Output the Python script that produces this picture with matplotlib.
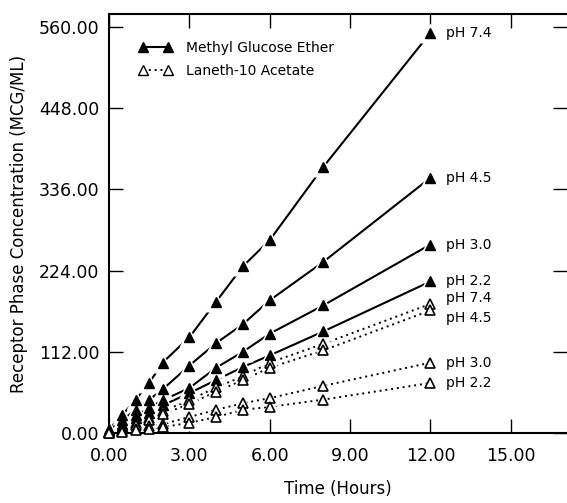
## Receptor phase concentration vs time chart
import matplotlib
matplotlib.use('Agg')
import matplotlib.pyplot as plt
from matplotlib.lines import Line2D

plt.rcParams['font.family'] = ['DejaVu Sans']

## Data
hours = [0, 0.5, 1, 1.5, 2, 3, 4, 5, 6, 8, 12]

mge_74 = [5, 25, 46, 69, 97, 132, 181, 230, 266, 367, 552]
mge_45 = [3, 18, 32, 46, 60, 93, 124, 150, 183, 236, 352]
mge_30 = [2, 12, 25, 35, 45, 62, 90, 112, 137, 176, 260]
mge_22 = [2, 10, 20, 28, 38, 55, 73, 91, 107, 140, 209]

lan_74 = [1, 6, 14, 21, 30, 45, 63, 78, 97, 123, 178]
lan_45 = [1, 5, 11, 18, 26, 40, 57, 73, 90, 114, 169]
lan_30 = [0, 3, 6, 9, 12, 22, 32, 41, 48, 65, 97]
lan_22 = [0, 2, 4, 6, 8, 14, 22, 32, 36, 46, 69]

mge_series = [mge_74, mge_45, mge_30, mge_22]
lan_series = [lan_74, lan_45, lan_30, lan_22]
mge_labels = ['pH 7.4', 'pH 4.5', 'pH 3.0', 'pH 2.2']
lan_labels = ['pH 7.4', 'pH 4.5', 'pH 3.0', 'pH 2.2']
lan_label_nudge = [8, -10, 0, 0]  # 7.4 / 4.5 labels pushed apart

x_ticks = [0, 3, 6, 9, 12, 15]
y_ticks = [0, 112, 224, 336, 448, 560]

## Plotting
fig = plt.figure(figsize=(5.67, 5.03), dpi=100)
ax = fig.add_axes([0.1922, 0.1392, 0.8078, 0.833])

for vals in mge_series:
    ax.plot(hours, vals, color='black', lw=1.5, ls='-', zorder=1, clip_on=False)
    ax.plot(hours, vals, ls='none', marker='^', ms=14, mfc='white', mec='none', zorder=2, clip_on=False)
    ax.plot(hours, vals, ls='none', marker='^', ms=7.5, mfc='black', mec='black', zorder=3, clip_on=False)

for vals in lan_series:
    ax.plot(hours, vals, color='black', lw=1.4, ls=(0, (1, 2)), zorder=1, clip_on=False)
    ax.plot(hours, vals, ls='none', marker='^', ms=12, mfc='white', mec='none', zorder=2, clip_on=False)
    ax.plot(hours, vals, ls='none', marker='^', ms=7.5, mfc='white', mec='black', mew=1.2, zorder=3, clip_on=False)

# pH labels at the end of each line
for vals, lab in zip(mge_series, mge_labels):
    ax.text(12.6, vals[-1], lab, fontsize=10, va='center', ha='left')
for vals, lab, nd in zip(lan_series, lan_labels, lan_label_nudge):
    ax.text(12.6, vals[-1] + nd, lab, fontsize=10, va='center', ha='left')

# legend
h1 = Line2D([], [], color='black', lw=1.5, marker='^', ms=7, mfc='black', mec='black')
h2 = Line2D([], [], color='black', lw=1.4, ls=(0, (1, 2)), marker='^', ms=7, mfc='white', mec='black')
ax.legend([h1, h2], ['Methyl Glucose Ether', 'Laneth-10 Acetate'], numpoints=2,
          loc='upper left', bbox_to_anchor=(0.065, 0.935), frameon=False,
          fontsize=10, handlelength=2.4, handletextpad=1.0, labelspacing=0.6,
          borderpad=0, borderaxespad=0)

ax.set_xlim(0, 17.1)
ax.set_ylim(0, 578)
ax.set_xticks(x_ticks)
ax.set_xticklabels(['%.2f' % v for v in x_ticks])
ax.set_yticks(y_ticks)
ax.set_yticklabels(['%.2f' % v for v in y_ticks])
ax.tick_params(direction='in', length=10, width=1, top=True, right=True, labelsize=12.5)
ax.tick_params(axis='x', pad=10)
ax.tick_params(axis='y', pad=7)
ax.spines['right'].set_visible(False)
for s in ['left', 'bottom', 'top']:
    ax.spines[s].set_linewidth(1.5)

ax.set_xlabel('Time (Hours)', fontsize=12, labelpad=11)
ax.set_ylabel('Receptor Phase Concentration (MCG/ML)', fontsize=12, labelpad=8)

fig.savefig('out.png', dpi=100)
